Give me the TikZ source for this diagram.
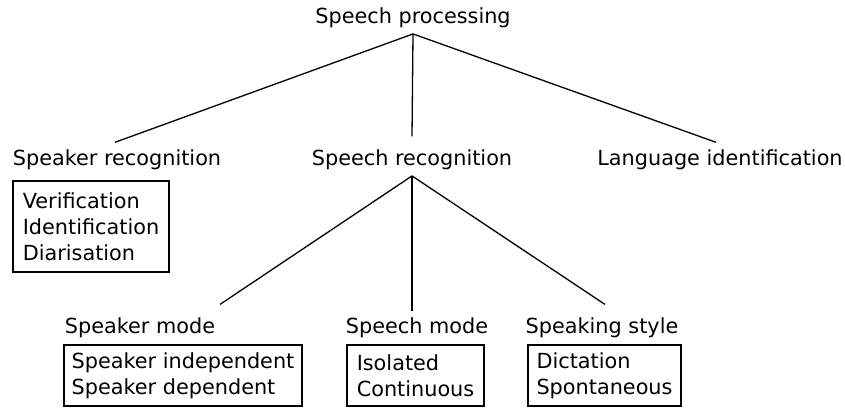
\documentclass[tikz,border=0pt]{standalone}
\usepackage{fontspec}
\setmainfont{DejaVu Sans}
\begin{document}
\begin{tikzpicture}[x=0.5pt,y=-0.5pt,
  lbl/.style={inner sep=0pt,anchor=base,font=\fontsize{10.4}{13}\selectfont},
  itembox/.style={draw,line width=0.65pt,align=left,inner sep=0pt,
    font=\fontsize{10.4}{13}\selectfont},
  branch/.style={line width=0.65pt}]
\useasboundingbox (0,0) rectangle (845,407);

% tree labels
\node[lbl] (root)  at (413,23.5)  {Speech processing};
\node[lbl] (spkr)  at (117,165.5) {Speaker recognition};
\node[lbl] (sprec) at (412,165.5) {Speech recognition};
\node[lbl] (lang)  at (720,165.5) {Language identification};
\node[lbl] (smode) at (140,333.5) {Speaker mode};
\node[lbl] (spmode) at (417,333.5) {Speech mode};
\node[lbl] (style) at (602,333.5) {Speaking style};

% boxed lists
\node[itembox,minimum width=78pt,minimum height=45.5pt] (b1) at (91,226.5)
  {Verification\\Identification\\Diarisation};
\node[itembox,minimum width=119pt,minimum height=30.5pt] (b2) at (183,375.5)
  {Speaker independent\\Speaker dependent};
\node[itembox,minimum width=68.5pt,minimum height=30.5pt] (b3) at (415.5,375.5)
  {Isolated\\Continuous};
\node[itembox,minimum width=76.5pt,minimum height=30.5pt] (b4) at (604.5,375.5)
  {Dictation\\Spontaneous};

% branches
\draw[branch] ([yshift=-2.85pt]root.south) -- ([shift={(-1pt,3.5pt)}]spkr.north);
\draw[branch] ([yshift=-2.85pt]root.south) -- ([yshift=6.45pt]sprec.north);
\draw[branch] ([yshift=-2.85pt]root.south) -- ([shift={(-2pt,3.5pt)}]lang.north);
\draw[branch] ([yshift=-2.85pt]sprec.south) -- ([shift={(40pt,6.45pt)}]smode.north);
\draw[branch] ([yshift=-2.85pt]sprec.south) -- ([shift={(-2.5pt,2.95pt)}]spmode.north);
\draw[branch] ([yshift=-2.85pt]sprec.south) -- ([shift={(1.5pt,6.45pt)}]style.north);
\end{tikzpicture}
\end{document}
